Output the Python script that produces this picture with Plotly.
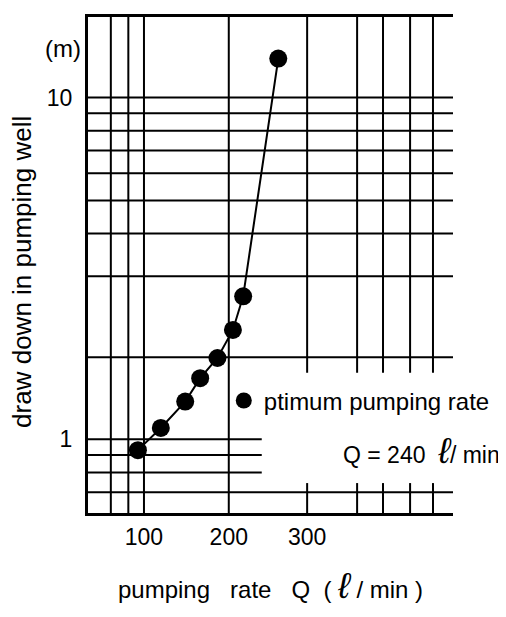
import math
import plotly.graph_objects as go

# ---- data ----
pumping_rate = [96, 112, 132, 146, 164, 182, 195, 247]          # Q (l/min)
drawdown = [0.93, 1.08, 1.29, 1.51, 1.73, 2.09, 2.62, 13.0]       # m

x_tick_vals = [100, 177, 300]
x_tick_text = ["100", "200", "300"]
y_tick_vals = [1, 10]
y_tick_text = ["1", "10"]

# grid of the log paper (as drawn)
h_full = [10, 9, 8, 7, 6, 5, 4, 3, 1.74, 0.7]
h_short = [1, 0.9, 0.8]
v_full = [80, 90, 100, 177]
v_broken = [300, 420, 500, 600, 700]

x_min, x_max = 68.6, 801
y_min, y_max = 0.609, 17.2
h_short_end = 221
gap_top, gap_bottom = 1.566, 0.745

FONT = "Liberation Sans, Arial, Helvetica, sans-serif"
ELL = "<i><span style='font-size:36px'>ℓ</span></i>"
NB = "&nbsp;"

gx, gy = [], []
for v in h_full:
    gx += [x_min, x_max, None]; gy += [v, v, None]
for v in h_short:
    gx += [x_min, h_short_end, None]; gy += [v, v, None]
for v in v_full:
    gx += [v, v, None]; gy += [y_min, y_max, None]
for v in v_broken:
    gx += [v, v, None, v, v, None]; gy += [y_max, gap_top, None, gap_bottom, y_min, None]

fig = go.Figure()
fig.add_trace(go.Scatter(x=gx, y=gy, mode="lines", line=dict(color="black", width=2),
                         showlegend=False, hoverinfo="skip"))
fig.add_trace(go.Scatter(x=pumping_rate, y=drawdown, mode="lines",
                         line=dict(color="black", width=2), showlegend=False))
fig.add_trace(go.Scatter(x=pumping_rate, y=drawdown, mode="markers",
                         marker=dict(color="black", size=18),
                         name="ptimum pumping rate", showlegend=True))

# page body has an 8px margin, so the figure is 8px smaller and margins shifted
fig.update_layout(
    width=498, height=609,
    margin=dict(l=80, r=53, t=6, b=104),
    paper_bgcolor="white", plot_bgcolor="white",
    font=dict(family=FONT, size=23, color="black"),
    xaxis=dict(type="log", range=[math.log10(x_min), math.log10(x_max)],
               showgrid=False, zeroline=False, ticks="",
               tickvals=x_tick_vals, ticktext=x_tick_text,
               showline=True, linecolor="black", linewidth=3, mirror=True,
               ticklabelstandoff=1, tickfont=dict(size=23)),
    yaxis=dict(type="log", range=[math.log10(y_min), math.log10(y_max)],
               showgrid=False, zeroline=False, ticks="",
               tickvals=y_tick_vals, ticktext=y_tick_text,
               showline=True, linecolor="black", linewidth=3,
               ticklabelstandoff=8, tickfont=dict(size=23)),
    legend=dict(x=0.372, y=0.226, xanchor="left", yanchor="middle",
                bgcolor="rgba(0,0,0,0)", font=dict(size=24)),
    showlegend=True,
)

fig.add_annotation(text="(m)", xref="paper", yref="paper", x=-0.068, y=0.936,
                   xanchor="center", yanchor="middle", showarrow=False, font=dict(size=24))
fig.add_annotation(text="draw down in pumping well", xref="paper", yref="paper",
                   x=-0.181, y=0.486, xanchor="center", yanchor="middle",
                   textangle=-90, showarrow=False, font=dict(size=26))
fig.add_annotation(text=f"pumping{NB*3}rate{NB*3}Q{NB*2}({NB}{ELL}{NB}/{NB}min{NB})",
                   xref="paper", yref="paper", x=0.501, y=-0.146,
                   xanchor="center", yanchor="middle", showarrow=False, font=dict(size=24))
fig.add_annotation(text=f"Q = 240{NB*2}{ELL}/ min",
                   xref="paper", yref="paper", x=0.693, y=0.126,
                   xanchor="left", yanchor="middle", showarrow=False, font=dict(size=23))

fig.write_html("out.html")
